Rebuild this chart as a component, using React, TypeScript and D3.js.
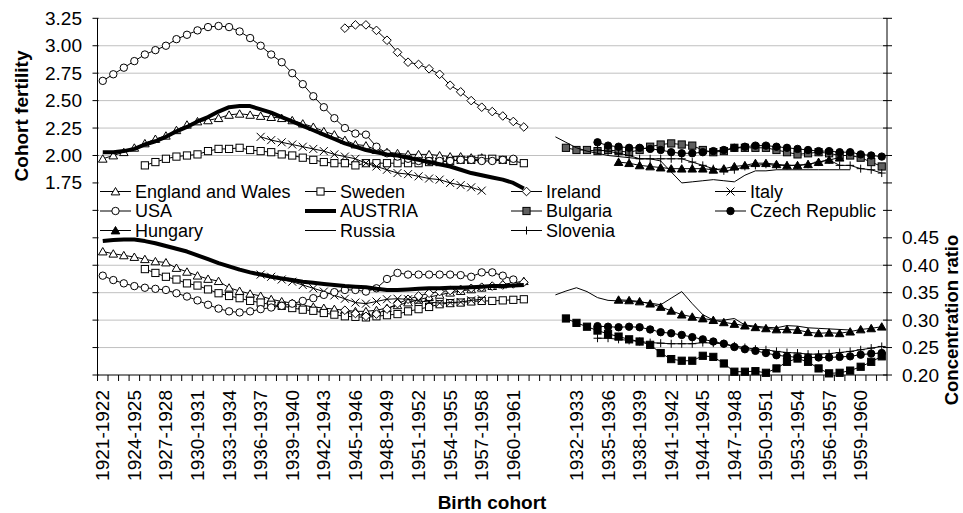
import React from 'react';
import * as d3 from 'd3';

// ---------- categories ----------
const westCohorts = [
  '1921-1922', '1922-1923', '1923-1924', '1924-1925', '1925-1926', '1926-1927', '1927-1928', '1928-1929',
  '1929-1930', '1930-1931', '1931-1932', '1932-1933', '1933-1934', '1934-1935', '1935-1936', '1936-1937',
  '1937-1938', '1938-1939', '1939-1940', '1940-1941', '1941-1942', '1942-1943', '1943-1944', '1944-1945',
  '1945-1946', '1946-1947', '1947-1948', '1948-1949', '1949-1950', '1950-1951', '1951-1952', '1952-1953',
  '1953-1954', '1954-1955', '1955-1956', '1956-1957', '1957-1958', '1958-1959', '1959-1960', '1960-1961',
  '1961-1962',
];
const gapCategories = ['', ''];
const eastCohorts = [
  '1930-1931', '1931-1932', '1932-1933', '1933-1934', '1934-1935', '1935-1936', '1936-1937', '1937-1938',
  '1938-1939', '1939-1940', '1940-1941', '1941-1942', '1942-1943', '1943-1944', '1944-1945', '1945-1946',
  '1946-1947', '1947-1948', '1948-1949', '1949-1950', '1950-1951', '1951-1952', '1952-1953', '1953-1954',
  '1954-1955', '1955-1956', '1956-1957', '1957-1958', '1958-1959', '1959-1960', '1960-1961', '1961-1962',
];
const categories = [...westCohorts, ...gapCategories, ...eastCohorts];

// ---------- axis ticks ----------
const leftTicks = [0, 0.25, 0.5, 0.75, 1, 1.25, 1.5, 1.75, 2, 2.25, 2.5, 2.75, 3, 3.25];
const leftLabelled = [1.75, 2, 2.25, 2.5, 2.75, 3, 3.25];
const leftGrid = [2, 2.25, 2.5, 2.75, 3, 3.25];
const rightTicks = [0.2, 0.25, 0.3, 0.35, 0.4, 0.45, 0.5, 0.55, 0.6, 0.65, 0.7, 0.75, 0.8, 0.85];
const rightLabelled = [0.2, 0.25, 0.3, 0.35, 0.4, 0.45];
const rightGrid = [0.25, 0.3, 0.35, 0.4];

// ---------- cohort fertility (top) ----------
const ewTop = [1.97, 2.0, 2.03, 2.07, 2.11, 2.15, 2.18, 2.23, 2.28, 2.31, 2.32, 2.34, 2.37, 2.38, 2.37, 2.36, 2.35, 2.34, 2.32, 2.29, 2.26, 2.22, 2.19, 2.14, 2.1, 2.09, 2.05, 2.03, 2.02, 2.01, 2.01, 2.01, 2.0, 1.99, 1.99, 1.98, 1.98];
const swedenTop = [1.91, 1.94, 1.97, 1.99, 2.0, 2.01, 2.04, 2.06, 2.06, 2.07, 2.05, 2.04, 2.03, 2.01, 2.0, 1.98, 1.96, 1.94, 1.93, 1.93, 1.91, 1.93, 1.93, 1.93, 1.93, 1.93, 1.93, 1.94, 1.94, 1.95, 1.96, 1.96, 1.97, 1.97, 1.96, 1.95, 1.93];
const irelandTop = [3.16, 3.19, 3.19, 3.14, 3.05, 2.94, 2.85, 2.83, 2.79, 2.74, 2.64, 2.58, 2.5, 2.44, 2.4, 2.36, 2.31, 2.26];
const italyTop = [2.17, 2.14, 2.12, 2.1, 2.08, 2.06, 2.04, 2.01, 1.99, 1.97, 1.93, 1.9, 1.87, 1.84, 1.83, 1.81, 1.79, 1.78, 1.75, 1.73, 1.71, 1.68];
const usaTop = [2.68, 2.74, 2.8, 2.86, 2.92, 2.96, 3.0, 3.06, 3.1, 3.14, 3.17, 3.18, 3.17, 3.13, 3.07, 3.0, 2.92, 2.85, 2.75, 2.65, 2.54, 2.44, 2.34, 2.25, 2.2, 2.19, 2.08, 2.02, 1.99, 1.97, 1.95, 1.95, 1.95, 1.95, 1.96, 1.96, 1.95, 1.95, 1.96, 1.97];
const austriaTop = [2.03, 2.03, 2.04, 2.06, 2.1, 2.13, 2.17, 2.22, 2.26, 2.31, 2.35, 2.4, 2.44, 2.45, 2.45, 2.42, 2.39, 2.35, 2.31, 2.27, 2.23, 2.19, 2.15, 2.11, 2.08, 2.05, 2.03, 2.01, 2.0, 1.98, 1.96, 1.94, 1.92, 1.9, 1.87, 1.84, 1.82, 1.8, 1.78, 1.75, 1.7];
const bulgariaTop = [2.07, 2.05, 2.05, 2.04, 2.05, 2.04, 2.03, 2.05, 2.08, 2.1, 2.11, 2.1, 2.09, 2.05, 2.03, 2.04, 2.07, 2.07, 2.07, 2.07, 2.05, 2.03, 2.01, 2.02, 2.03, 2.02, 2.0, 2.0, 1.98, 1.94, 1.9];
const czechTop = [2.12, 2.09, 2.08, 2.07, 2.07, 2.06, 2.05, 2.03, 2.02, 2.02, 2.03, 2.04, 2.05, 2.07, 2.08, 2.09, 2.09, 2.08, 2.07, 2.06, 2.05, 2.04, 2.04, 2.03, 2.03, 2.01, 2.0, 1.99];
const hungaryTop = [1.94, 1.93, 1.91, 1.9, 1.89, 1.88, 1.88, 1.88, 1.88, 1.87, 1.88, 1.9, 1.91, 1.93, 1.93, 1.92, 1.91, 1.91, 1.92, 1.94, 1.96, 1.98];
const russiaTop = [2.17, 2.12, 2.07, 2.04, 2.02, 2.0, 1.99, 1.98, 1.97, 1.97, 1.95, 1.85, 1.75, 1.76, 1.77, 1.78, 1.77, 1.76, 1.82, 1.86, 1.86, 1.87, 1.87, 1.87, 1.87, 1.87, 1.87, 1.87, 1.87];
const sloveniaTop = [2.05, 2.04, 2.02, 2.0, 1.97, 1.97, 1.97, 1.97, 1.97, 1.94, 1.91, 1.88, 1.86, 1.87, 1.9, 1.91, 1.92, 1.91, 1.91, 1.91, 1.92, 1.94, 1.96, 1.91, 1.91, 1.88, 1.87, 1.84];

// ---------- concentration ratio (bottom) ----------
const ewBottom = [0.425, 0.421, 0.418, 0.415, 0.411, 0.407, 0.405, 0.395, 0.388, 0.381, 0.375, 0.371, 0.359, 0.353, 0.348, 0.344, 0.338, 0.334, 0.331, 0.327, 0.324, 0.322, 0.32, 0.318, 0.316, 0.316, 0.318, 0.322, 0.327, 0.332, 0.337, 0.342, 0.346, 0.35, 0.353, 0.356, 0.359, 0.362, 0.365, 0.368, 0.371];
const swedenBottom = [0.393, 0.386, 0.379, 0.374, 0.367, 0.363, 0.356, 0.349, 0.344, 0.34, 0.335, 0.332, 0.328, 0.326, 0.322, 0.319, 0.317, 0.313, 0.31, 0.307, 0.306, 0.305, 0.307, 0.309, 0.311, 0.316, 0.32, 0.324, 0.329, 0.331, 0.332, 0.334, 0.335, 0.335, 0.336, 0.337, 0.338];
const irelandBottom = [0.318, 0.312, 0.307, 0.311, 0.32, 0.33, 0.338, 0.344, 0.349, 0.352, 0.354, 0.356, 0.358, 0.36, 0.362, 0.364, 0.366, 0.369];
const italyBottom = [0.383, 0.379, 0.374, 0.37, 0.364, 0.358, 0.352, 0.345, 0.339, 0.332, 0.33, 0.334, 0.338, 0.339, 0.338, 0.335, 0.333, 0.331, 0.332, 0.333, 0.336, 0.338];
const usaBottom = [0.381, 0.373, 0.367, 0.362, 0.359, 0.357, 0.355, 0.349, 0.343, 0.336, 0.328, 0.321, 0.316, 0.314, 0.316, 0.32, 0.323, 0.326, 0.33, 0.335, 0.34, 0.346, 0.351, 0.355, 0.355, 0.352, 0.358, 0.375, 0.386, 0.383, 0.383, 0.383, 0.383, 0.383, 0.382, 0.379, 0.387, 0.387, 0.381, 0.374];
const austriaBottom = [0.444, 0.446, 0.447, 0.447, 0.444, 0.44, 0.435, 0.43, 0.425, 0.418, 0.411, 0.404, 0.398, 0.392, 0.387, 0.383, 0.379, 0.376, 0.373, 0.37, 0.368, 0.366, 0.364, 0.362, 0.361, 0.36, 0.357, 0.355, 0.355, 0.356, 0.357, 0.358, 0.358, 0.359, 0.359, 0.36, 0.361, 0.362, 0.362, 0.363, 0.364];
const bulgariaBottom = [0.303, 0.295, 0.288, 0.281, 0.275, 0.27, 0.265, 0.261, 0.255, 0.24, 0.229, 0.226, 0.226, 0.235, 0.233, 0.221, 0.206, 0.206, 0.207, 0.204, 0.212, 0.224, 0.23, 0.224, 0.212, 0.203, 0.204, 0.208, 0.215, 0.224, 0.234];
const czechBottom = [0.289, 0.288, 0.287, 0.288, 0.287, 0.283, 0.278, 0.276, 0.273, 0.269, 0.265, 0.261, 0.257, 0.251, 0.247, 0.244, 0.24, 0.236, 0.234, 0.232, 0.232, 0.232, 0.232, 0.233, 0.234, 0.237, 0.239, 0.24];
const hungaryBottom = [0.337, 0.336, 0.334, 0.33, 0.324, 0.317, 0.31, 0.306, 0.303, 0.3, 0.296, 0.293, 0.29, 0.287, 0.285, 0.283, 0.283, 0.282, 0.278, 0.276, 0.277, 0.276, 0.279, 0.283, 0.285, 0.288];
const russiaBottom = [0.346, 0.353, 0.359, 0.352, 0.341, 0.336, 0.335, 0.334, 0.333, 0.331, 0.328, 0.34, 0.352, 0.33, 0.31, 0.3, 0.3, 0.303, 0.291, 0.289, 0.287, 0.286, 0.29, 0.289, 0.286, 0.285, 0.284, 0.283, 0.282];
const sloveniaBottom = [0.267, 0.267, 0.265, 0.263, 0.261, 0.259, 0.258, 0.257, 0.257, 0.257, 0.259, 0.258, 0.257, 0.253, 0.25, 0.247, 0.246, 0.243, 0.241, 0.24, 0.238, 0.238, 0.239, 0.241, 0.243, 0.246, 0.249, 0.252];

type Marker = 'triangle' | 'square' | 'diamond' | 'x' | 'circle' | 'none' | 'plus';
interface Series {
  name: string;
  marker: Marker;
  lineWidth: number;
  panel: 'west' | 'east';
  top: number[];
  topStart: string;
  bottom: number[];
  bottomStart: string;
  topFill: string;
  bottomFill: string;
}

const seriesList: Series[] = [
  { name: 'England and Wales', marker: 'triangle', lineWidth: 1, panel: 'west', top: ewTop, topStart: '1921-1922', bottom: ewBottom, bottomStart: '1921-1922', topFill: '#fff', bottomFill: '#fff' },
  { name: 'Sweden', marker: 'square', lineWidth: 1, panel: 'west', top: swedenTop, topStart: '1925-1926', bottom: swedenBottom, bottomStart: '1925-1926', topFill: '#fff', bottomFill: '#fff' },
  { name: 'Ireland', marker: 'diamond', lineWidth: 1, panel: 'west', top: irelandTop, topStart: '1944-1945', bottom: irelandBottom, bottomStart: '1944-1945', topFill: '#fff', bottomFill: '#fff' },
  { name: 'Italy', marker: 'x', lineWidth: 1, panel: 'west', top: italyTop, topStart: '1936-1937', bottom: italyBottom, bottomStart: '1936-1937', topFill: '#fff', bottomFill: '#fff' },
  { name: 'USA', marker: 'circle', lineWidth: 1, panel: 'west', top: usaTop, topStart: '1921-1922', bottom: usaBottom, bottomStart: '1921-1922', topFill: '#fff', bottomFill: '#fff' },
  { name: 'AUSTRIA', marker: 'none', lineWidth: 4, panel: 'west', top: austriaTop, topStart: '1921-1922', bottom: austriaBottom, bottomStart: '1921-1922', topFill: '#fff', bottomFill: '#fff' },
  { name: 'Bulgaria', marker: 'square', lineWidth: 1, panel: 'east', top: bulgariaTop, topStart: '1931-1932', bottom: bulgariaBottom, bottomStart: '1931-1932', topFill: '#5f5f5f', bottomFill: '#000' },
  { name: 'Czech Republic', marker: 'circle', lineWidth: 1, panel: 'east', top: czechTop, topStart: '1934-1935', bottom: czechBottom, bottomStart: '1934-1935', topFill: '#000', bottomFill: '#000' },
  { name: 'Hungary', marker: 'triangle', lineWidth: 1, panel: 'east', top: hungaryTop, topStart: '1936-1937', bottom: hungaryBottom, bottomStart: '1936-1937', topFill: '#000', bottomFill: '#000' },
  { name: 'Russia', marker: 'none', lineWidth: 1, panel: 'east', top: russiaTop, topStart: '1930-1931', bottom: russiaBottom, bottomStart: '1930-1931', topFill: '#000', bottomFill: '#000' },
  { name: 'Slovenia', marker: 'plus', lineWidth: 1, panel: 'east', top: sloveniaTop, topStart: '1934-1935', bottom: sloveniaBottom, bottomStart: '1934-1935', topFill: '#000', bottomFill: '#000' },
];

const FONT = '"Liberation Sans", Arial, Helvetica, sans-serif';

function catIndex(panel: 'west' | 'east', label: string): number {
  return panel === 'west'
    ? westCohorts.indexOf(label)
    : westCohorts.length + gapCategories.length + eastCohorts.indexOf(label);
}

function MarkerShape({ type, x, y, fill }: { type: Marker; x: number; y: number; fill: string }) {
  const s = { stroke: '#000', strokeWidth: 1 };
  switch (type) {
    case 'triangle':
      return <path d={`M${x},${y - 4}L${x + 4.3},${y + 3.4}L${x - 4.3},${y + 3.4}Z`} fill={fill} {...s} />;
    case 'square':
      return <rect x={x - 3.6} y={y - 3.6} width={7.2} height={7.2} fill={fill} {...s} />;
    case 'diamond':
      return <path d={`M${x},${y - 4.3}L${x + 4.3},${y}L${x},${y + 4.3}L${x - 4.3},${y}Z`} fill={fill} {...s} />;
    case 'circle':
      return <circle cx={x} cy={y} r={3.7} fill={fill} {...s} />;
    case 'x':
      return <path d={`M${x - 4},${y - 4}L${x + 4},${y + 4}M${x - 4},${y + 4}L${x + 4},${y - 4}`} fill="none" {...s} />;
    case 'plus':
      return <path d={`M${x - 4},${y}L${x + 4},${y}M${x},${y - 4}L${x},${y + 4}`} fill="none" {...s} />;
    default:
      return null;
  }
}

export default function App() {
  const W = 963;
  const H = 513;
  const left = 97.5;
  const right = 887;
  const top = 18.3;
  const bottom = 375;

  const x = d3.scaleBand<number>().domain(d3.range(categories.length)).range([left, right]).paddingInner(0).paddingOuter(0);
  const bw = x.bandwidth();
  const xc = (i: number) => (x(i) as number) + bw / 2;
  const yL = d3.scaleLinear().domain([0, 3.25]).range([bottom, top]);
  const yR = d3.scaleLinear().domain([0.2, 0.85]).range([bottom, top]);
  const lineGen = d3.line<[number, number]>().x((d) => d[0]).y((d) => d[1]);

  const fmt = d3.format('.2f');

  const pts = (vals: number[], start: number, y: d3.ScaleLinear<number, number>) =>
    vals.map((v, k) => [xc(start + k), y(v)] as [number, number]);

  const legendCols = [100, 305, 511, 715];
  const legendRows = [191.5, 211, 230.5];

  return (
    <svg width={W} height={H} style={{ position: 'absolute', left: 0, top: 0, background: '#fff' }} fontFamily={FONT}>
      <rect x={0} y={0} width={W} height={H} fill="#fff" />
      {/* gridlines */}
      {leftGrid.map((v) => (
        <line key={'gl' + v} x1={left} x2={right} y1={yL(v)} y2={yL(v)} stroke="#c0c0c0" strokeWidth={1} />
      ))}
      {rightGrid.map((v) => (
        <line key={'gr' + v} x1={left} x2={right} y1={yR(v)} y2={yR(v)} stroke="#c0c0c0" strokeWidth={1} />
      ))}

      {/* axes */}
      <line x1={left} x2={left} y1={top} y2={bottom} stroke="#000" />
      <line x1={right} x2={right} y1={top} y2={bottom} stroke="#000" />
      <line x1={left} x2={right} y1={bottom} y2={bottom} stroke="#000" />
      {leftTicks.map((v) => (
        <line key={'lt' + v} x1={left - 5} x2={left + 1} y1={yL(v)} y2={yL(v)} stroke="#000" />
      ))}
      {rightTicks.map((v) => (
        <line key={'rt' + v} x1={right - 4} x2={right + 5} y1={yR(v)} y2={yR(v)} stroke="#000" />
      ))}
      {d3.range(categories.length + 1).map((i) => (
        <line key={'xt' + i} x1={left + i * bw} x2={left + i * bw} y1={bottom} y2={bottom + 6} stroke="#000" />
      ))}
      {leftLabelled.map((v) => (
        <text key={'ll' + v} x={82} y={yL(v)} textAnchor="end" dominantBaseline="central" fontSize={19}>
          {fmt(v)}
        </text>
      ))}
      {rightLabelled.map((v) => (
        <text key={'rl' + v} x={902} y={yR(v)} textAnchor="start" dominantBaseline="central" fontSize={19}>
          {fmt(v)}
        </text>
      ))}
      {categories.map((c, i) =>
        i % 3 === 0 && c ? (
          <text
            key={'xl' + i}
            transform={`translate(${xc(i)},${390}) rotate(-90)`}
            textAnchor="end"
            dominantBaseline="central"
            fontSize={19}
          >
            {c}
          </text>
        ) : null
      )}

      {/* axis titles */}
      <text transform="translate(21,116) rotate(-90)" textAnchor="middle" dominantBaseline="central" fontSize={19} fontWeight="bold">
        Cohort fertility
      </text>
      <text transform="translate(951,320) rotate(-90)" textAnchor="middle" dominantBaseline="central" fontSize={18.5} fontWeight="bold">
        Concentration ratio
      </text>
      <text x={492} y={502} textAnchor="middle" dominantBaseline="central" fontSize={19} fontWeight="bold">
        Birth cohort
      </text>

      {/* series */}
      {seriesList.map((s) => {
        const ts = catIndex(s.panel, s.topStart);
        const bs = catIndex(s.panel, s.bottomStart);
        const tp = pts(s.top, ts, yL);
        const bp = pts(s.bottom, bs, yR);
        return (
          <g key={s.name}>
            <path d={lineGen(tp) || ''} fill="none" stroke="#000" strokeWidth={s.lineWidth} strokeLinejoin="round" />
            <path d={lineGen(bp) || ''} fill="none" stroke="#000" strokeWidth={s.lineWidth} strokeLinejoin="round" />
            {tp.map((p, k) => (
              <MarkerShape key={'t' + k} type={s.marker} x={p[0]} y={p[1]} fill={s.topFill} />
            ))}
            {bp.map((p, k) => (
              <MarkerShape key={'b' + k} type={s.marker} x={p[0]} y={p[1]} fill={s.bottomFill} />
            ))}
          </g>
        );
      })}

      {/* legend */}
      {seriesList.map((s, k) => {
        const lx = legendCols[k % 4];
        const ly = legendRows[Math.floor(k / 4)];
        return (
          <g key={'lg' + s.name}>
            <line x1={lx} x2={lx + 31} y1={ly} y2={ly} stroke="#000" strokeWidth={s.lineWidth} />
            <MarkerShape type={s.marker} x={lx + 15.5} y={ly} fill={s.topFill} />
            <text x={lx + 35} y={ly} dominantBaseline="central" fontSize={18}>
              {s.name}
            </text>
          </g>
        );
      })}
    </svg>
  );
}
